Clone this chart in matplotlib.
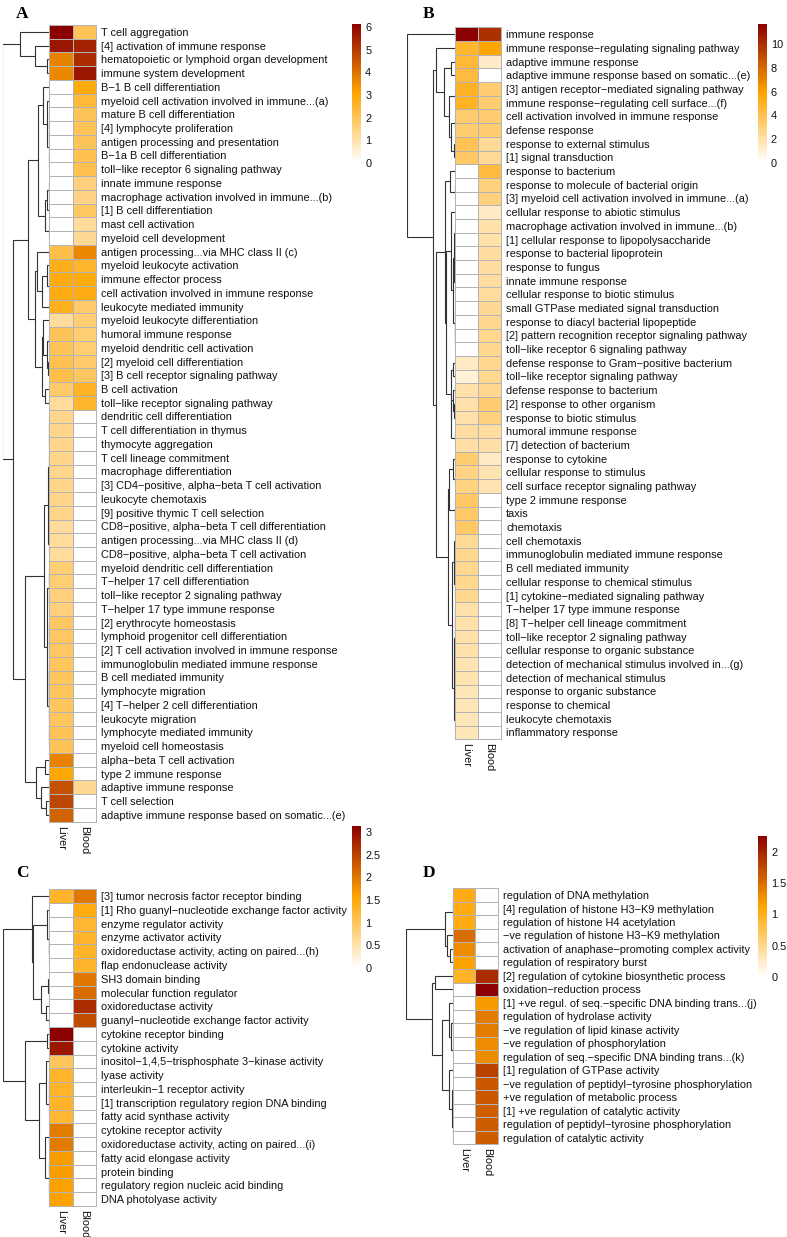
import numpy as np
import matplotlib
matplotlib.use('Agg')
import matplotlib.pyplot as plt
from matplotlib.colors import LinearSegmentedColormap, Normalize

plt.rcParams['font.family'] = ['Liberation Sans', 'DejaVu Sans']

W, H = 787, 1237
FS = 7.95

# ---- panel A : biological process, immune terms ----
terms_a = [
    'T cell aggregation', '[4] activation of immune response',
    'hematopoietic or lymphoid organ development', 'immune system development',
    'B\u22121 B cell differentiation', 'myeloid cell activation involved in immune...(a)',
    'mature B cell differentiation', '[4] lymphocyte proliferation',
    'antigen processing and presentation', 'B\u22121a B cell differentiation',
    'toll\u2212like receptor 6 signaling pathway', 'innate immune response',
    'macrophage activation involved in immune...(b)', '[1] B cell differentiation',
    'mast cell activation', 'myeloid cell development',
    'antigen processing...via MHC class II (c)', 'myeloid leukocyte activation',
    'immune effector process', 'cell activation involved in immune response',
    'leukocyte mediated immunity', 'myeloid leukocyte differentiation',
    'humoral immune response', 'myeloid dendritic cell activation',
    '[2] myeloid cell differentiation', '[3] B cell receptor signaling pathway',
    'B cell activation', 'toll\u2212like receptor signaling pathway',
    'dendritic cell differentiation', 'T cell differentiation in thymus',
    'thymocyte aggregation', 'T cell lineage commitment',
    'macrophage differentiation', '[3] CD4\u2212positive, alpha\u2212beta T cell activation',
    'leukocyte chemotaxis', '[9] positive thymic T cell selection',
    'CD8\u2212positive, alpha\u2212beta T cell differentiation',
    'antigen processing...via MHC class II (d)',
    'CD8\u2212positive, alpha\u2212beta T cell activation',
    'myeloid dendritic cell differentiation', 'T\u2212helper 17 cell differentiation',
    'toll\u2212like receptor 2 signaling pathway', 'T\u2212helper 17 type immune response',
    '[2] erythrocyte homeostasis', 'lymphoid progenitor cell differentiation',
    '[2] T cell activation involved in immune response',
    'immunoglobulin mediated immune response', 'B cell mediated immunity',
    'lymphocyte migration', '[4] T\u2212helper 2 cell differentiation',
    'leukocyte migration', 'lymphocyte mediated immunity',
    'myeloid cell homeostasis', 'alpha\u2212beta T cell activation',
    'type 2 immune response', 'adaptive immune response', 'T cell selection',
    'adaptive immune response based on somatic...(e)',
]
liver_a = [6.13, 5.7, 3.7, 3.6, 0, 0, 0, 0, 0, 0, 0, 0, 0, 0, 0, 0,
           2.2, 2.75, 2.85, 2.85, 2.7, 1.2, 2.0, 2.0, 2.1, 2.2, 1.8, 1.2,
           1.4, 1.4, 1.4, 1.42, 1.42, 1.42, 1.42, 1.42, 1.2, 1.2, 1.2,
           1.7, 1.7, 1.6, 1.6, 1.9, 1.9, 1.9, 1.95, 1.95, 1.95, 1.95, 1.95,
           2.0, 2.0, 3.7, 3.0, 4.6, 4.8, 4.3]
blood_a = [2.0, 5.5, 5.3, 5.7, 2.9, 2.4, 2.0, 2.0, 2.0, 2.1, 2.1, 1.6, 1.5,
           1.9, 1.2, 1.3, 3.6, 2.5, 2.9, 2.8, 1.8, 1.7, 1.7, 1.7, 1.8, 1.9,
           2.6, 2.5, 0, 0, 0, 0, 0, 0, 0, 0, 0, 0, 0, 0, 0, 0, 0, 0, 0, 0,
           0, 0, 0, 0, 0, 0, 0, 0, 0, 1.3, 0, 0]
ticks_a = [0, 1, 2, 3, 4, 5, 6]

# ---- panel B : biological process, response terms ----
terms_b = [
    'immune response', 'immune response\u2212regulating signaling pathway',
    'adaptive immune response', 'adaptive immune response based on somatic...(e)',
    '[3] antigen receptor\u2212mediated signaling pathway',
    'immune response\u2212regulating cell surface...(f)',
    'cell activation involved in immune response', 'defense response',
    'response to external stimulus', '[1] signal transduction',
    'response to bacterium', 'response to molecule of bacterial origin',
    '[3] myeloid cell activation involved in immune...(a)',
    'cellular response to abiotic stimulus',
    'macrophage activation involved in immune...(b)',
    '[1] cellular response to lipopolysaccharide',
    'response to bacterial lipoprotein', 'response to fungus',
    'innate immune response', 'cellular response to biotic stimulus',
    'small GTPase mediated signal transduction',
    'response to diacyl bacterial lipopeptide',
    '[2] pattern recognition receptor signaling pathway',
    'toll\u2212like receptor 6 signaling pathway',
    'defense response to Gram\u2212positive bacterium',
    'toll\u2212like receptor signaling pathway', 'defense response to bacterium',
    '[2] response to other organism', 'response to biotic stimulus',
    'humoral immune response', '[7] detection of bacterium',
    'response to cytokine', 'cellular response to stimulus',
    'cell surface receptor signaling pathway', 'type 2 immune response',
    'taxis', 'chemotaxis', 'cell chemotaxis',
    'immunoglobulin mediated immune response', 'B cell mediated immunity',
    'cellular response to chemical stimulus',
    '[1] cytokine\u2212mediated signaling pathway',
    'T\u2212helper 17 type immune response', '[8] T\u2212helper cell lineage commitment',
    'toll\u2212like receptor 2 signaling pathway',
    'cellular response to organic substance',
    'detection of mechanical stimulus involved in...(g)',
    'detection of mechanical stimulus', 'response to organic substance',
    'response to chemical', 'leukocyte chemotaxis', 'inflammatory response',
]
liver_b = [11.7, 4.8, 4.6, 4.4, 5.0, 5.0, 3.3, 3.3, 3.9, 3.6,
           0, 0, 0, 0, 0, 0, 0, 0, 0, 0, 0, 0, 0, 0,
           1.4, 0.9, 2.0, 2.0, 2.0, 2.2, 2.1, 3.3, 2.9, 2.9, 3.6, 3.5, 3.5,
           2.4, 2.6, 2.6, 2.6, 2.6, 2.0, 2.0, 2.0, 2.0, 1.8, 1.8, 1.6, 1.6,
           1.6, 1.6]
blood_b = [10.0, 5.8, 1.3, 0, 3.3, 3.3, 3.3, 3.3, 2.4, 2.4,
           4.4, 3.0, 3.0, 1.4, 2.0, 2.0, 2.2, 2.2, 2.2, 2.3, 2.5, 2.6, 2.6,
           2.6, 2.6, 2.6, 2.6, 3.3, 3.0, 2.2, 2.1, 1.4, 1.8, 1.8,
           0, 0, 0, 0, 0, 0, 0, 0, 0, 0, 0, 0, 0, 0, 0, 0, 0, 0]
ticks_b = [0, 2, 4, 6, 8, 10]

# ---- panel C : molecular function ----
terms_c = [
    '[3] tumor necrosis factor receptor binding',
    '[1] Rho guanyl\u2212nucleotide exchange factor activity',
    'enzyme regulator activity', 'enzyme activator activity',
    'oxidoreductase activity, acting on paired...(h)',
    'flap endonuclease activity', 'SH3 domain binding',
    'molecular function regulator', 'oxidoreductase activity',
    'guanyl\u2212nucleotide exchange factor activity',
    'cytokine receptor binding', 'cytokine activity',
    'inositol\u22121,4,5\u2212trisphosphate 3\u2212kinase activity', 'lyase activity',
    'interleukin\u22121 receptor activity',
    '[1] transcription regulatory region DNA binding',
    'fatty acid synthase activity', 'cytokine receptor activity',
    'oxidoreductase activity, acting on paired...(i)',
    'fatty acid elongase activity', 'protein binding',
    'regulatory region nucleic acid binding', 'DNA photolyase activity',
]
liver_c = [1.3, 0, 0, 0, 0, 0, 0, 0, 0, 0, 3.13, 2.9, 1.0, 1.3, 1.3, 1.3,
           1.25, 1.95, 1.95, 1.65, 1.65, 1.6, 1.6]
blood_c = [2.0, 1.45, 1.25, 1.3, 1.3, 1.3, 2.0, 2.1, 2.7, 2.4,
           0, 0, 0, 0, 0, 0, 0, 0, 0, 0, 0, 0, 0]
ticks_c = [0, 0.5, 1, 1.5, 2, 2.5, 3]

# ---- panel D : regulation terms ----
terms_d = [
    'regulation of DNA methylation',
    '[4] regulation of histone H3\u2212K9 methylation',
    'regulation of histone H4 acetylation',
    '\u2212ve regulation of histone H3\u2212K9 methylation',
    'activation of anaphase\u2212promoting complex activity',
    'regulation of respiratory burst',
    '[2] regulation of cytokine biosynthetic process',
    'oxidation\u2212reduction process',
    '[1] +ve regul. of seq.\u2212specific DNA binding trans...(j)',
    'regulation of hydrolase activity',
    '\u2212ve regulation of lipid kinase activity',
    '\u2212ve regulation of phosphorylation',
    'regulation of seq.\u2212specific DNA binding trans...(k)',
    '[1] regulation of GTPase activity',
    '\u2212ve regulation of peptidyl\u2212tyrosine phosphorylation',
    '+ve regulation of metabolic process',
    '[1] +ve regulation of catalytic activity',
    'regulation of peptidyl\u2212tyrosine phosphorylation',
    'regulation of catalytic activity',
]
liver_d = [1.05, 1.05, 1.05, 1.5, 1.3, 1.15, 0.95, 0, 0, 0, 0, 0, 0, 0, 0,
           0, 0, 0, 0]
blood_d = [0, 0, 0, 0, 0, 0, 1.95, 2.25, 1.2, 1.4, 1.4, 1.3, 1.3, 1.8, 1.65,
           1.65, 1.6, 1.6, 1.6]
ticks_d = [0, 0.5, 1, 1.5, 2]

samples = ['Liver', 'Blood']

cmap = LinearSegmentedColormap.from_list('wod', ['white', 'orange', 'darkred'])


def px_axes(fig, x0, y0, x1, y1):
    # pixel box (top-left origin) -> figure fraction axes
    return fig.add_axes([x0 / W, 1 - y1 / H, (x1 - x0) / W, (y1 - y0) / H])


def adjacent_complete_linkage(X):
    # complete linkage (euclidean) where only neighbouring clusters in the
    # displayed row order may merge, so the tree stays consistent with it
    clusters = [{'members': [i], 'pos': i + 0.5, 'h': 0.0} for i in range(len(X))]
    links = []
    while len(clusters) > 1:
        best = None
        for k in range(len(clusters) - 1):
            a, b = clusters[k], clusters[k + 1]
            d = max(np.linalg.norm(X[i] - X[j])
                    for i in a['members'] for j in b['members'])
            if best is None or d < best[0]:
                best = (d, k)
        d, k = best
        a, b = clusters[k], clusters[k + 1]
        links.append((a['pos'], a['h'], b['pos'], b['h'], d))
        clusters[k:k + 2] = [{'members': a['members'] + b['members'],
                              'pos': (a['pos'] + b['pos']) / 2, 'h': d}]
    return links


def draw_panel(fig, letter, letter_xy, terms, liver, blood, ticks,
               heat_box, dend_box, cbar_box):
    data = np.column_stack([liver, blood]).astype(float)
    n = len(terms)
    vmax = data.max()

    ax = px_axes(fig, *heat_box)
    mesh = ax.pcolormesh(data, cmap=cmap, vmin=0, vmax=vmax,
                         edgecolors='#b4b4b4', linewidth=0.6)
    mesh.set_clip_on(False)
    ax.set_xlim(0, 2)
    ax.set_ylim(n, 0)
    ax.set_yticks(np.arange(n) + 0.5, terms)
    ax.yaxis.tick_right()
    ax.set_xticks([0.5, 1.5], samples, rotation=270)
    ax.tick_params(length=0, labelsize=FS, colors='#111111')
    ax.tick_params(axis='y', pad=3.6)
    ax.tick_params(axis='x', pad=3)
    for sp in ax.spines.values():
        sp.set_visible(False)

    dax = px_axes(fig, *dend_box)
    links = adjacent_complete_linkage(data)
    for pa, ha, pb, hb, d in links:
        dax.plot([ha, d, d, hb], [pa, pa, pb, pb], color='#333333', lw=0.8,
                 solid_capstyle='butt', solid_joinstyle='miter')
    dax.set_xlim(links[-1][4], 0)
    dax.set_ylim(n, 0)
    dax.axis('off')

    cax = px_axes(fig, *cbar_box)
    sm = plt.cm.ScalarMappable(norm=Normalize(0, vmax), cmap=cmap)
    cb = fig.colorbar(sm, cax=cax, ticks=ticks)
    cb.set_ticklabels([f'{t:g}' for t in ticks])
    cb.outline.set_visible(False)
    cax.tick_params(length=0, labelsize=FS, pad=3, colors='#111111')

    fig.text(letter_xy[0] / W, 1 - letter_xy[1] / H, letter,
             family=['Liberation Serif', 'DejaVu Serif'], weight='bold',
             fontsize=12.5, ha='center', va='center')


fig = plt.figure(figsize=(W / 100, H / 100), dpi=100)

draw_panel(fig, 'A', (22.5, 14), terms_a, liver_a, blood_a, ticks_a,
           (49.3, 25.0, 95.7, 821.7), (2.5, 25.0, 49.3, 821.7),
           (352, 24.3, 361, 162.7))
draw_panel(fig, 'B', (429, 14), terms_b, liver_b, blood_b, ticks_b,
           (455.0, 27.3, 501.0, 739.3), (407.3, 27.3, 455.0, 739.3),
           (757.7, 24.3, 766.7, 162.7))
draw_panel(fig, 'C', (22.5, 873), terms_c, liver_c, blood_c, ticks_c,
           (49.3, 889.3, 95.7, 1206.0), (2.5, 889.3, 49.3, 1206.0),
           (352, 826, 361, 968))
draw_panel(fig, 'D', (429, 873), terms_d, liver_d, blood_d, ticks_d,
           (452.7, 888.3, 498.0, 1144.3), (406.0, 888.3, 452.7, 1144.3),
           (758, 836, 767, 977))

fig.savefig('out.png', dpi=100)
plt.close(fig)
